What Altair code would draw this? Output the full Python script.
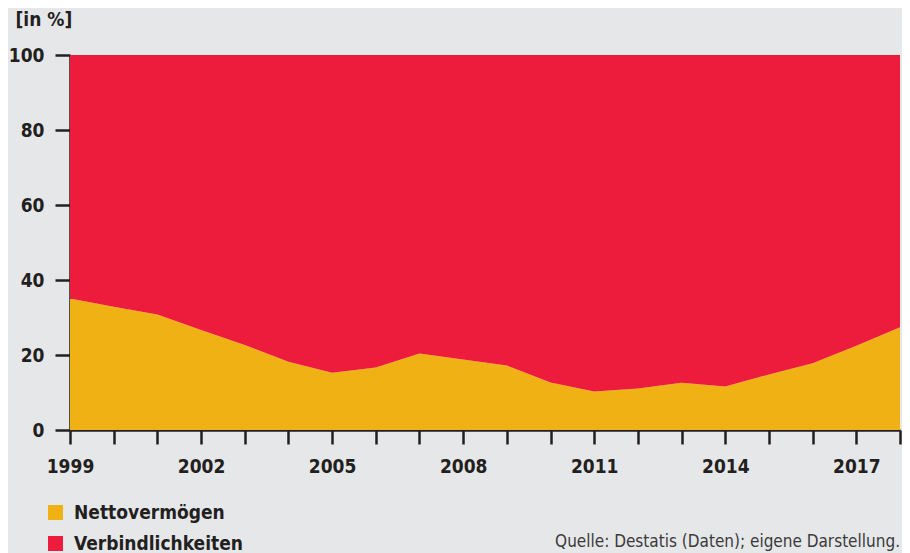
import altair as alt
import pandas as pd

years = list(range(1999, 2019))
netto = [35.1, 32.9, 30.8, 26.7, 22.7, 18.2, 15.3, 16.7, 20.4, 18.8,
         17.2, 12.7, 10.3, 11.1, 12.6, 11.6, 14.8, 17.8, 22.5, 27.4]
series_names = ["Nettovermögen", "Verbindlichkeiten"]
series_colors = ["#efb113", "#ee1c3c"]
y_ticks = [0, 20, 40, 60, 80, 100]
source_text = "Quelle:  Destatis (Daten); eigene Darstellung."

rows = []
for y, n in zip(years, netto):
    rows.append({"Jahr": y, "Reihe": series_names[0], "Wert": n, "ord": 0})
    rows.append({"Jahr": y, "Reihe": series_names[1], "Wert": round(100 - n, 2), "ord": 1})
df = pd.DataFrame(rows)

FONT = "DejaVu Sans Condensed, Liberation Sans Narrow, sans-serif"
DARK = "#231f20"
FS = 19

area = alt.Chart(df).mark_area(interpolate="linear").encode(
    x=alt.X("Jahr:Q",
            scale=alt.Scale(domain=[1999, 2018], nice=False, zero=False),
            axis=alt.Axis(values=years, format="d",
                          labelExpr="(datum.value - 1999) % 3 == 0 ? datum.label : ''",
                          title=None, tickSize=14, tickWidth=2.5, domainWidth=2.5,
                          domainColor=DARK, tickColor=DARK, labelColor=DARK,
                          labelFont=FONT, labelFontSize=FS, labelFontWeight="bold",
                          labelPadding=13, grid=False, labelFlush=False)),
    y=alt.Y("Wert:Q", stack="zero",
            scale=alt.Scale(domain=[0, 100], nice=False),
            axis=alt.Axis(values=y_ticks, title="[in %]", titleAngle=0,
                          titleAlign="left", titleBaseline="alphabetic",
                          titleX=-55, titleY=-30, titleFont=FONT, titleFontSize=FS,
                          titleFontWeight="bold", titleColor=DARK,
                          tickSize=15, tickWidth=2.5, domainWidth=2.5,
                          domainColor=DARK, tickColor=DARK, labelColor=DARK,
                          labelFont=FONT, labelFontSize=FS, labelFontWeight="bold",
                          labelPadding=11, grid=False)),
    color=alt.Color("Reihe:N",
                    scale=alt.Scale(domain=series_names, range=series_colors),
                    legend=alt.Legend(title=None, orient="none", legendX=-24, legendY=448,
                                      symbolType="square", symbolSize=225,
                                      symbolStrokeWidth=0, labelFont=FONT,
                                      labelFontSize=FS, labelFontWeight="bold",
                                      labelColor=DARK, rowPadding=11, padding=0,
                                      labelOffset=9, labelLimit=400,
                                      direction="vertical")),
    order=alt.Order("ord:Q"),
)

src = alt.Chart(pd.DataFrame({"t": [source_text]})).mark_text(
    align="right", baseline="alphabetic", font=FONT, fontSize=17, color="#3a3a3a"
).encode(text="t:N", x=alt.value(830), y=alt.value(492))

chart = alt.layer(area, src).properties(
    width=830, height=375,
    autosize=alt.AutoSizeParams(type="none"),
    padding={"left": 62, "top": 47, "right": 2, "bottom": 123},
    background="#e6e7e9",
).configure_view(stroke=None)

chart.save("out.html", embed_options={"renderer": "svg", "actions": False})
